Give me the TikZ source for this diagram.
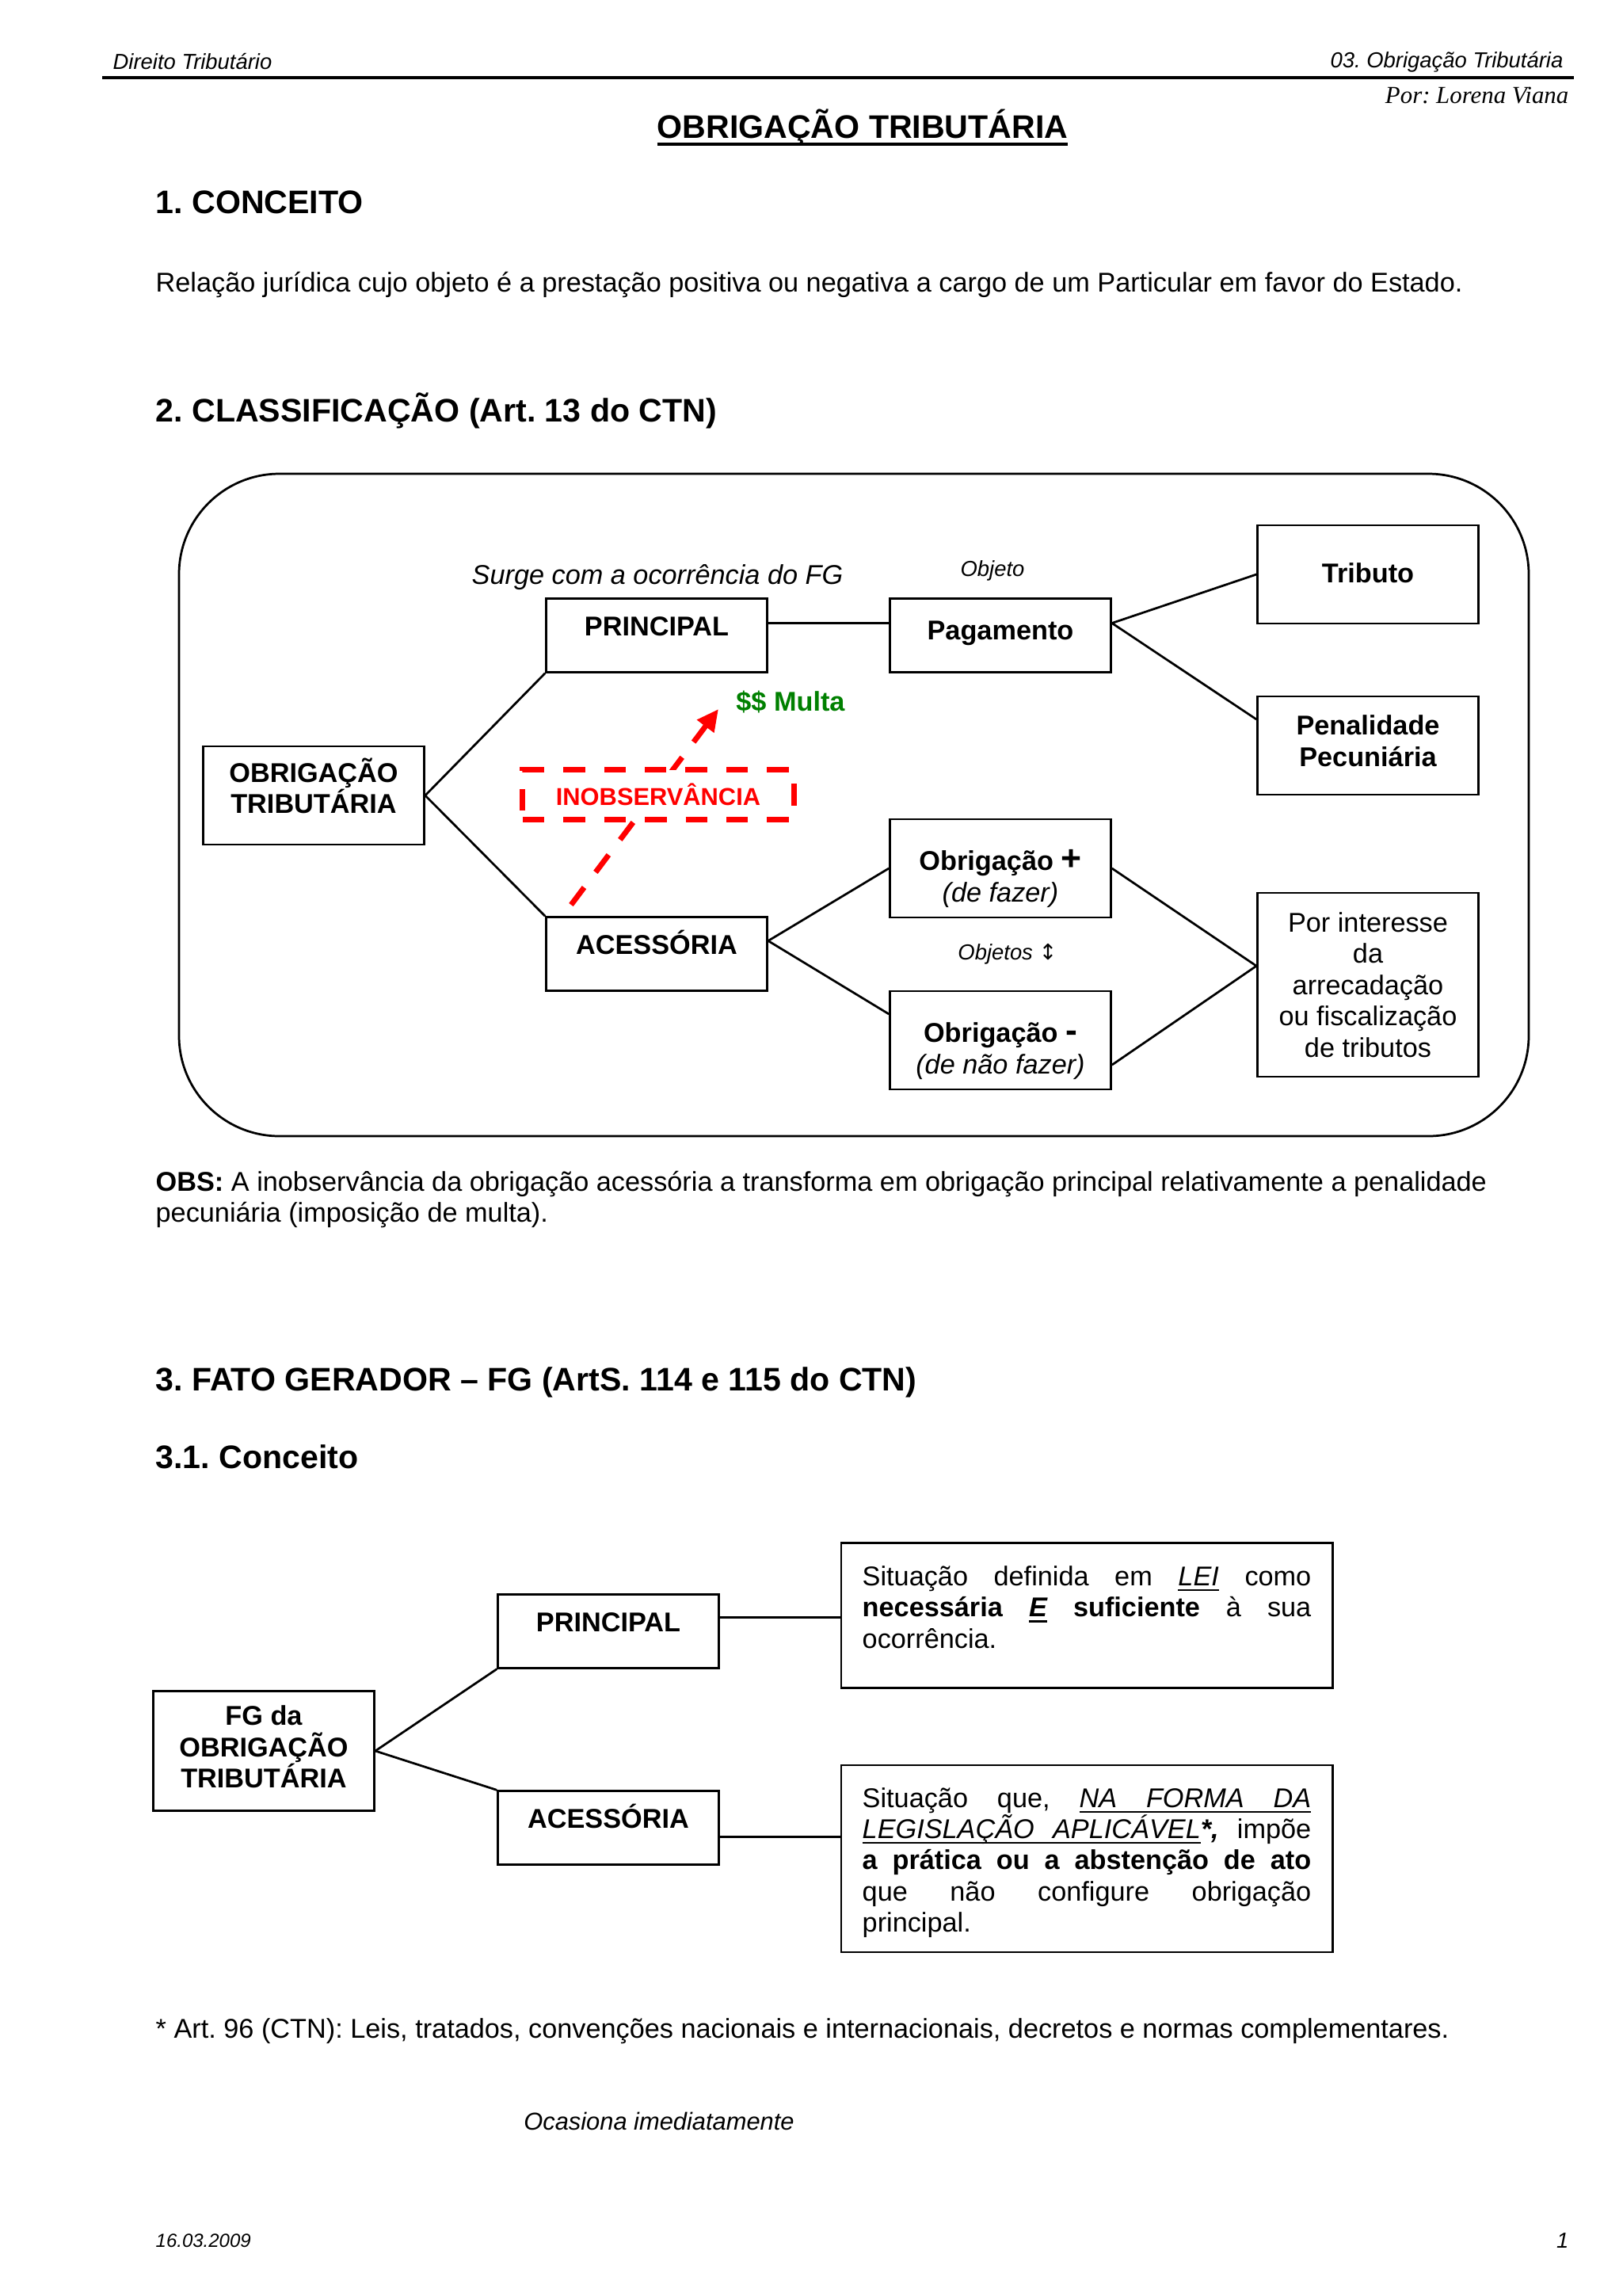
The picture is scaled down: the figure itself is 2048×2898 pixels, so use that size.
\documentclass[tikz,border=0pt]{standalone}
\usepackage{fontspec}
\setmainfont{Liberation Sans}
\newfontfamily\timesfont{Liberation Serif}
\newfontfamily\arrowfont{DejaVu Sans}
\usetikzlibrary{arrows.meta}
\usetikzlibrary{calc}
\frenchspacing

\definecolor{multagreen}{RGB}{0,128,0}
\newcommand{\textsz}{\fontsize{10}{11.5}\selectfont}
\newcommand{\headsz}{\fontsize{12}{14}\selectfont\bfseries}
\newcommand{\smallsz}{\fontsize{8}{9.5}\selectfont}

% underline that keeps a fixed depth and stretches over spaces
\newdimen\ultop \ultop=1.3pt
\newdimen\ulbot \ulbot=2.0pt
\newcommand{\ulw}[1]{\leavevmode\setbox0\hbox{#1}\rlap{\vrule height -\ultop depth \ulbot width \wd0}\box0}
\newcommand{\uls}{\leaders\hrule height -\ultop depth \ulbot\hskip\fontdimen2\font plus\fontdimen3\font minus\fontdimen4\font}

\begin{document}
\begin{tikzpicture}[x=0.10254mm, y=-0.10254mm,
    every node/.style={inner sep=0pt, font=\textsz},
    box/.style={draw=black, line width=0.8pt, minimum width=28.6mm, align=center},
    flatbox/.style={box, minimum height=9.5mm, text height=3mm, text depth=3mm, font=\textsz\bfseries},
    tallbox/.style={box, minimum height=12.7mm},
    textbox/.style={draw=black, line width=0.8pt, minimum width=63.6mm, inner xsep=2.6mm, inner ysep=2.2mm},
    heading/.style={anchor=west, font=\headsz},
    link/.style={line width=0.8pt},
    redline/.style={red, line width=2pt, dash pattern=on 8pt off 7pt}
  ]

  % Page (A4, one unit = one pixel of the scan)
  \useasboundingbox (0,0) rectangle (2048,2898);
  \fill[white] (0,0) rectangle (2048,2898);

  % Header
  \node[anchor=west, font=\smallsz\itshape] (hleft) at (142,78) {Direito Tributário};
  \node[anchor=east, font=\smallsz\itshape] (hright) at (1974,78) {03. Obrigação Tributária};
  \draw[line width=1.3pt] (129,98) -- (1987,98);
  \node[anchor=east, font=\timesfont\fontsize{9}{11}\selectfont\itshape] (author) at (1981,121) {Por: Lorena Viana};

  % Title
  \node[font=\headsz] (title) at (1089,161) {\ultop=1.6pt \ulbot=2.9pt \ulw{OBRIGAÇÃO}\uls\ulw{TRIBUTÁRIA}};

  % 1. Conceito
  \node[heading] (sec1) at (196,255) {1. CONCEITO};
  \node[anchor=west] (conceito) at (196,359) {Relação jurídica cujo objeto é a prestação positiva ou negativa a cargo de um Particular em favor do Estado.};

  % 2. Classificacao
  \node[heading] (sec2) at (196,518) {2. CLASSIFICAÇÃO (Art. 13 do CTN)};

  % Outer rounded frame
  \draw[line width=0.8pt, rounded corners=13mm] (226,598) rectangle (1930,1434);

  % Boxes of the classification
  \node[tallbox, font=\textsz\bfseries] (obrig) at (396,1004) {OBRIGAÇÃO\\TRIBUTÁRIA\rule[-7pt]{0pt}{0pt}};
  \node[flatbox] (princ) at (829,802) {PRINCIPAL};
  \node[flatbox] (aces) at (829,1204) {ACESSÓRIA};
  \node[flatbox, text height=3.6mm, text depth=2.4mm] (pag) at (1263,802) {Pagamento};
  \node[tallbox, font=\textsz\bfseries] (trib) at (1727,725) {Tributo\rule[-1.2pt]{0pt}{0pt}};
  \node[tallbox, font=\textsz\bfseries] (pen) at (1727,941) {Penalidade\\Pecuniária\rule[-3.5pt]{0pt}{0pt}};
  \node[tallbox] (omais) at (1263,1096) {\rule{0pt}{15.3pt}\textbf{Obrigação {\fontsize{13}{11.5}\selectfont +}}\\\textit{(de fazer)}};
  \node[tallbox] (omenos) at (1263,1313) {\rule{0pt}{15.3pt}\textbf{Obrigação {\fontsize{13}{11.5}\selectfont -}}\\\textit{(de não fazer)}};
  \node[box, minimum height=23.8mm] (porint) at (1727,1243) {Por interesse\\da\\arrecadação\\ou fiscalização\\de tributos};

  % Connectors
  \draw[link] (obrig.east) -- (princ.south west);
  \draw[link] (obrig.east) -- (aces.north west);
  \draw[link] ([yshift=-3.3mm]princ.north east) -- ([yshift=-3.3mm]pag.north west);
  \draw[link] ([yshift=-3.3mm]pag.north east) -- (trib.west);
  \draw[link] ([yshift=-3.3mm]pag.north east) -- ([yshift=-3.1mm]pen.north west);
  \draw[link] ([yshift=-3.2mm]aces.north east) -- (omais.west);
  \draw[link] ([yshift=-3.2mm]aces.north east) -- ([yshift=-3.1mm]omenos.north west);
  \draw[link] (omais.east) -- ([yshift=-9.6mm]porint.north west);
  \draw[link] ([yshift=3.3mm]omenos.south east) -- ([yshift=-9.6mm]porint.north west);

  % Free labels
  \node[font=\textsz\itshape] (surge) at (830,729) {Surge com a ocorrência do FG};
  \node[font=\smallsz\itshape] (objeto) at (1253,720) {Objeto};
  \node[font=\smallsz\itshape] (objetos) at (1272,1204) {Objetos {\arrowfont\upshape ↕}};
  \node[font=\textsz\bfseries, text=multagreen] (multa) at (998,886) {\$\$ Multa};

  % Inobservancia: dashed arrow behind the dashed box
  \coordinate (afoot) at (721,1142);
  \coordinate (atip) at (907,895);
  \draw[redline, -{Triangle[length=2.8mm,width=2.6mm]}] (afoot) -- (atip);
  \node[redline, draw, fill=white, minimum width=35.1mm, minimum height=6.4mm, font=\fontsize{9}{10}\selectfont\bfseries] (inob) at (831,1003) {INOBSERVÂNCIA};

  % Obs
  \node[anchor=west, align=left] (obs) at (196,1514) {\textbf{OBS:} A inobservância da obrigação acessória a transforma em obrigação principal relativamente a penalidade\\pecuniária (imposição de multa).};

  % 3. Fato gerador
  \node[heading] (sec3) at (196,1745) {3. FATO GERADOR – FG (ArtS. 114 e 115 do CTN)};
  \node[heading] (sec31) at (196,1839) {3.1. Conceito};

  \node[box, minimum height=15.5mm, font=\textsz\bfseries] (fg) at (333,2210) {FG da\\OBRIGAÇÃO\\TRIBUTÁRIA\rule[-3pt]{0pt}{0pt}};
  \node[flatbox] (p2) at (768,2059) {PRINCIPAL};
  \node[flatbox] (a2) at (768,2307) {ACESSÓRIA};
  \node[textbox] (t1) at (1372,2039) {\parbox[c][14.4mm][t]{58.1mm}{\vspace*{0.8mm}Situação definida em {\itshape\ulw{LEI}} como\linebreak \textbf{necessária} {\bfseries\itshape\ulw{E}} \textbf{suficiente} à sua\linebreak ocorrência.}};
  \node[textbox] (t2) at (1372,2346) {\parbox[c][19.8mm][t]{58.1mm}{\vspace*{0.7mm}Situação que, {\itshape\ulw{NA}\uls\ulw{FORMA}\uls\ulw{DA}}\linebreak {\itshape\ulw{LEGISLAÇÃO}\uls\ulw{APLICÁVEL}}\textbf{\textit{*,}} impõe\linebreak \textbf{a prática ou a abstenção de ato}\linebreak que não configure obrigação\linebreak principal.}};

  \draw[link] (fg.east) -- (p2.south west);
  \draw[link] (fg.east) -- (a2.north west);
  \draw[link] ([yshift=-3.1mm]p2.north east) coordinate (pj) -- (pj -| t1.west);
  \draw[link] ([yshift=-1.2mm]a2.east) coordinate (aj) -- (aj -| t2.west);

  % Footnote and footer
  \node[anchor=west] (art96) at (196,2564) {* Art. 96 (CTN): Leis, tratados, convenções nacionais e internacionais, decretos e normas complementares.};
  \node[font=\fontsize{9}{11}\selectfont\itshape] (ocasiona) at (832,2677) {Ocasiona imediatamente};
  \node[anchor=west, font=\fontsize{7}{8.5}\selectfont\itshape] (fdate) at (196,2828) {16.03.2009};
  \node[anchor=east, font=\smallsz\itshape] (fpage) at (1981,2828) {1};

\end{tikzpicture}
\end{document}
